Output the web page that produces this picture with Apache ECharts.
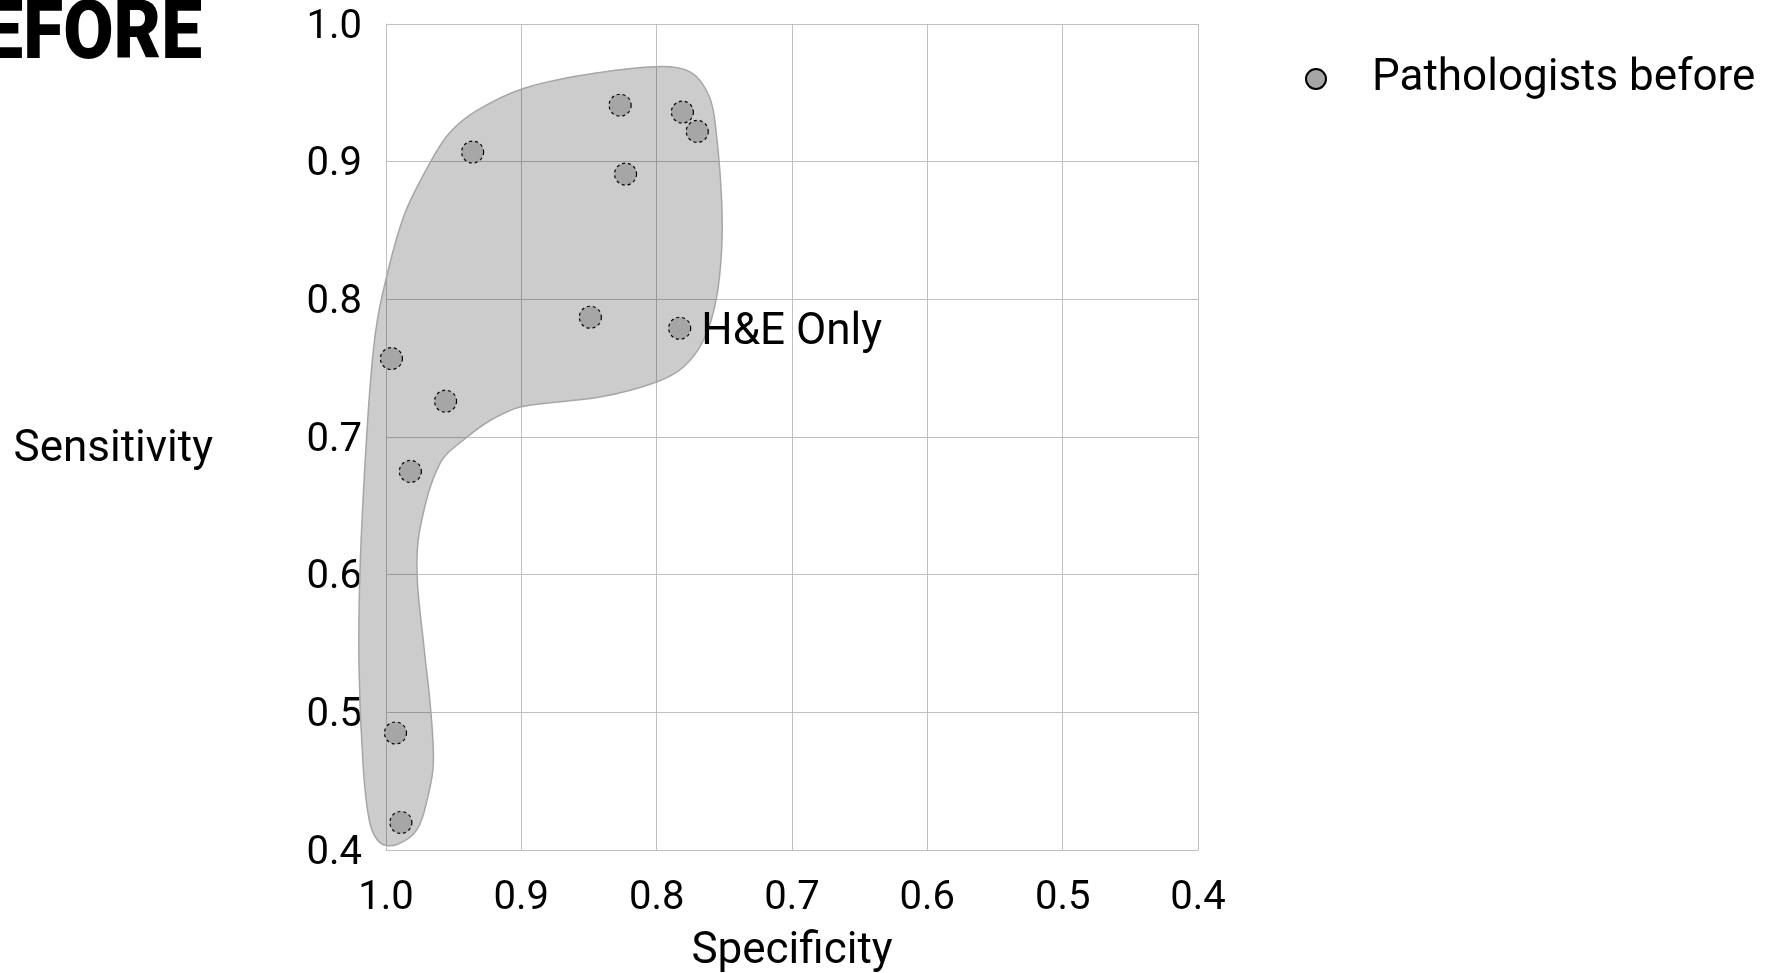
<!DOCTYPE html>
<html>
<head>
<meta charset="utf-8">
<script src="https://cdn.jsdelivr.net/npm/echarts@6/dist/echarts.min.js"></script>
<style>
html,body{margin:0;padding:0;background:#fff;}
#chart{width:1778px;height:973px;}
</style>
</head>
<body>
<div id="chart"></div>
<script>
// Data
var seriesName = 'Pathologists before';
var specificity = [0.936, 0.827, 0.781, 0.770, 0.823, 0.849, 0.783, 0.996, 0.956, 0.982, 0.993, 0.989];
var sensitivity = [0.907, 0.941, 0.936, 0.922, 0.891, 0.787, 0.779, 0.757, 0.726, 0.675, 0.485, 0.420];
var pointLabels = ['', '', '', '', '', '', 'H&E Only', '', '', '', '', ''];
var xTicks = [0.4, 0.5, 0.6, 0.7, 0.8, 0.9, 1.0];
var yTicks = [0.4, 0.5, 0.6, 0.7, 0.8, 0.9, 1.0];
// outline of the shaded region, [specificity, sensitivity]
var regionOutline = [
  [1.003, 0.802], [0.987, 0.860], [0.967, 0.900], [0.953, 0.921], [0.933, 0.937],
  [0.899, 0.953], [0.854, 0.963], [0.800, 0.969], [0.775, 0.965], [0.761, 0.947],
  [0.756, 0.921], [0.752, 0.872], [0.752, 0.836], [0.756, 0.800], [0.765, 0.771],
  [0.780, 0.751], [0.800, 0.740], [0.842, 0.729], [0.900, 0.722], [0.923, 0.712],
  [0.940, 0.700], [0.960, 0.681], [0.975, 0.633], [0.977, 0.599], [0.972, 0.548],
  [0.967, 0.502], [0.965, 0.463], [0.969, 0.439], [0.977, 0.415], [0.992, 0.404],
  [1.004, 0.405], [1.012, 0.420], [1.017, 0.463], [1.020, 0.536], [1.019, 0.609],
  [1.014, 0.705], [1.009, 0.766]
];

var FONT = 'Roboto, "Noto Sans", sans-serif';
var chart = echarts.init(document.getElementById('chart'), null, {renderer: 'canvas'});

var scatterData = specificity.map(function (s, i) {
  var item = {value: [s, sensitivity[i]]};
  if (pointLabels[i]) {
    item.label = {show: true, formatter: pointLabels[i], position: 'right', distance: 10,
      offset: [0, 5], color: '#000', fontSize: 44, fontFamily: FONT};
  }
  return item;
});

var option = {
  backgroundColor: '#fff',
  animation: false,
  graphic: [{
    type: 'text', x: 202, y: 38, scaleX: 1, scaleY: 1.12,
    style: {text: 'BEFORE', font: '900 73px Roboto, "Noto Sans", sans-serif', fill: '#000',
      textAlign: 'right', textVerticalAlign: 'middle'}
  }],
  legend: {
    data: [seriesName],
    left: 1300, top: 52,
    itemWidth: 20, itemHeight: 20,
    textStyle: {fontSize: 44, fontFamily: FONT, color: '#000', padding: [0, 0, 0, 41]}
  },
  grid: {left: 386, top: 24, width: 812, height: 826, outerBoundsMode: 'none', containLabel: false},
  xAxis: {
    type: 'value', inverse: true, min: 0.4, max: 1.0, interval: 0.1,
    name: 'Specificity', nameLocation: 'middle', nameGap: 80,
    nameTextStyle: {fontSize: 44, fontFamily: FONT, color: '#000'},
    axisLine: {show: true, lineStyle: {color: '#c0c0c0', width: 1}},
    axisTick: {show: false},
    splitLine: {show: true, lineStyle: {color: '#c0c0c0', width: 1}},
    axisLabel: {fontSize: 40, fontFamily: FONT, color: '#000', margin: 29,
      formatter: function (v) { return v.toFixed(1); },
      customValues: xTicks}
  },
  yAxis: {
    type: 'value', min: 0.4, max: 1.0, interval: 0.1,
    name: 'Sensitivity', nameLocation: 'middle', nameRotate: 0, nameGap: 173,
    nameTextStyle: {fontSize: 44, fontFamily: FONT, color: '#000', align: 'right',
      verticalAlign: 'top', lineHeight: 25},
    axisLine: {show: true, lineStyle: {color: '#c0c0c0', width: 1}},
    axisTick: {show: false},
    splitLine: {show: true, lineStyle: {color: '#c0c0c0', width: 1}},
    axisLabel: {fontSize: 40, fontFamily: FONT, color: '#000', margin: 24,
      verticalAlign: 'top', lineHeight: 7,
      formatter: function (v) { return v.toFixed(1); },
      customValues: yTicks}
  },
  series: [
    {
      type: 'custom',
      name: 'region',
      silent: true,
      z: 1,
      clip: false,
      data: [0],
      renderItem: function (params, api) {
        var pts = regionOutline.map(function (p) { return api.coord(p); });
        return {
          type: 'polygon',
          shape: {points: pts, smooth: 0.35},
          style: {fill: 'rgba(0,0,0,0.2)', stroke: '#a6a6a6', lineWidth: 1.5}
        };
      }
    },
    {
      type: 'scatter',
      name: seriesName,
      z: 3,
      symbol: 'circle',
      symbolSize: 22,
      itemStyle: {color: '#a6a6a6', borderColor: '#000', borderWidth: 1.2, borderType: [3, 3], opacity: 1},
      data: scatterData
    }
  ]
};
chart.setOption(option);
</script>
</body>
</html>
